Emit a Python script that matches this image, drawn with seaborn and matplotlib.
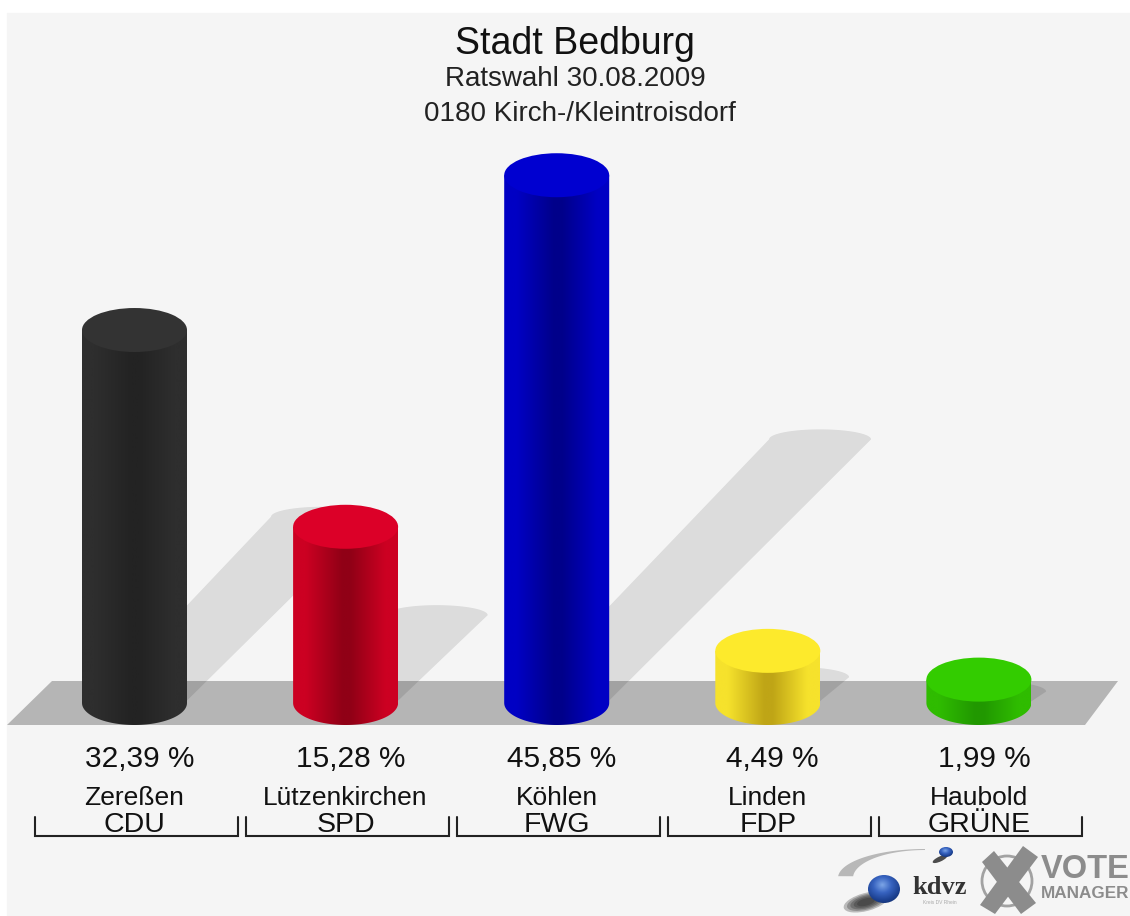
import numpy as np
import pandas as pd
import matplotlib
matplotlib.use('Agg')
import matplotlib.pyplot as plt
import seaborn as sns
from matplotlib.colors import LinearSegmentedColormap
from matplotlib.patches import Ellipse, Polygon, Rectangle, Circle
from matplotlib.transforms import Affine2D, blended_transform_factory

candidates = ['Zereßen', 'Lützenkirchen', 'Köhlen', 'Linden', 'Haubold']
parties = ['CDU', 'SPD', 'FWG', 'FDP', 'GRÜNE']
shares = [32.39, 15.28, 45.85, 4.49, 1.99]

edge_colors = ['#2e2e2e', '#cc0022', '#0000c4', '#f6e22c', '#2fbc00']
mid_colors = ['#232323', '#900016', '#00008a', '#bfa516', '#219800']
top_colors = ['#333333', '#dc0028', '#0000d0', '#fdea2c', '#33cc00']

W, H = 1130, 916
X_STEP = 211.1      # px per category
Y_STEP = 11.5       # px per percent
X0_PX, Y0_PX = 134.5, 703


def label(share):
    return f'{share:.2f}'.replace('.', ',') + ' %'


def draw_floor(fig, ax, px):
    fig.patches.append(Rectangle((7, 13), W, H, transform=px, color='#f5f5f5', zorder=-5))
    ax.add_patch(Polygon([(7, 725), (52, 681), (1118, 681), (1085, 725)], transform=px,
                         color='#b5b5b5', lw=0, zorder=1))


def draw_shadow(ax, pos, share):
    # shadow is sheared to the upper right, length follows the bar value
    rise = 0.5 * share
    shift = rise * Y_STEP * 0.98 / X_STEP
    left, right = pos - 40 / X_STEP, pos + 50 / X_STEP
    t = np.linspace(0, np.pi, 40)
    cx = pos + 5 / X_STEP + shift
    half = (right - left) / 2 + 6 / X_STEP
    arc_x = cx + half * np.cos(t)
    arc_y = rise + 10 / Y_STEP * np.sin(t)
    xs = np.r_[right, arc_x, left]
    ys = np.r_[0, arc_y, 0]
    ax.fill(xs, ys, color='black', alpha=0.1, lw=0, zorder=2)


def draw_cylinders(ax):
    ry = 22 / Y_STEP
    nodes = [0, 0.12, 0.47, 0.55, 0.88, 1]
    for patch, edge, mid, top in zip(ax.patches[:5], edge_colors, mid_colors, top_colors):
        x0, w = patch.get_x(), patch.get_width()
        h = patch.get_height() + 0.5 / Y_STEP
        cx = x0 + w / 2
        t = np.linspace(np.pi, 2 * np.pi, 60)
        outline = np.c_[np.r_[x0, cx + w / 2 * np.cos(t), x0 + w],
                        np.r_[h, ry * np.sin(t), h]]
        clip = Polygon(outline, transform=ax.transData, closed=True, lw=0)
        cmap = LinearSegmentedColormap.from_list('c', list(zip(nodes, [edge, edge, mid, mid, edge, edge])))
        img = ax.imshow(np.linspace(0, 1, 256).reshape(1, -1), cmap=cmap, aspect='auto',
                        extent=(x0, x0 + w, -ry, h), zorder=4, interpolation='bilinear')
        img.set_clip_path(clip)
        ax.add_patch(Ellipse((cx, h), w, 2 * ry, color=top, lw=0, zorder=5))
        patch.set_visible(False)


def draw_texts(ax, px, xpx):
    fam = 'Liberation Sans'
    ax.text(575, 54, 'Stadt Bedburg', transform=px, ha='center', va='baseline', fontsize=27, family=fam, color='#111111')
    ax.text(575, 86, 'Ratswahl 30.08.2009', transform=px, ha='center', va='baseline', fontsize=20, family=fam, color='#222222')
    ax.text(580, 121, '0180 Kirch-/Kleintroisdorf', transform=px, ha='center', va='baseline', fontsize=20, family=fam, color='#222222')
    for i, (cand, party, share) in enumerate(zip(candidates, parties, shares)):
        ax.text(i + 5 / X_STEP, 767, label(share), transform=xpx, ha='center', va='baseline', fontsize=21.5, family=fam, color='#111111')
        ax.text(i, 805, cand, transform=xpx, ha='center', va='baseline', fontsize=19, family=fam, color='#111111')
        ax.text(i, 832, party, transform=xpx, ha='center', va='baseline', fontsize=20.5, family=fam, color='#111111')
        left, right = i - 99.5 / X_STEP, i + 103 / X_STEP
        ax.plot([left, left, right, right], [817, 836, 836, 817], transform=xpx,
                color='#222222', lw=1.5, solid_joinstyle='miter')


def radial_ball(ax, px, cx, cy, rx, ry):
    yy, xx = np.mgrid[-1:1:80j, -1:1:80j]
    d = np.hypot(xx + 0.1, yy + 0.3)
    cmap = LinearSegmentedColormap.from_list('ball', ['#7ba4e6', '#3763c0', '#1b3f8e', '#10285c'])
    img = ax.imshow(d, cmap=cmap, extent=(cx - rx, cx + rx, cy + ry, cy - ry), transform=px, zorder=6, aspect='auto')
    img.set_clip_path(Ellipse((cx, cy), 2 * rx, 2 * ry, transform=px))


def draw_logo(ax, px):
    # grey swoosh
    t = np.linspace(np.pi * 1.02, np.pi * 1.5, 40)
    outer = np.c_[925 + 87 * np.cos(t), 878 + 29 * np.sin(t)]
    inner = np.c_[925 + 72 * np.cos(t[::-1]), 878 + 28 * np.sin(t[::-1])]
    ax.add_patch(Polygon(np.vstack([outer, inner]), transform=px, color='#b8b8b8', lw=0, zorder=6))
    # ball shadows, stacked for a soft edge
    for scale in [1.0, 0.85, 0.7, 0.55, 0.4]:
        ax.add_patch(Ellipse((866, 902), 46 * scale, 18 * scale, angle=-15, transform=px, color='#222222', alpha=0.28, lw=0, zorder=5))
    ax.add_patch(Ellipse((940, 859), 16, 5, angle=-25, transform=px, color='#222222', alpha=0.8, lw=0, zorder=5))
    radial_ball(ax, px, 884, 889, 16, 14)
    radial_ball(ax, px, 946, 852, 7, 5)
    ax.text(940, 888, 'kdvz', transform=px, ha='center', va='center', fontsize=19, weight='bold',
            family='Liberation Serif', color='#333333', zorder=6)
    ax.text(940, 903, 'Kreis DV Rhein', transform=px, ha='center', va='center', fontsize=3.5, color='#aaaaaa', zorder=6)
    # vote manager mark
    grey = '#8c8c8c'
    ax.add_patch(Circle((1007, 881), 25, transform=px, fill=False, ec='#a2a2a2', lw=2, zorder=6))
    ax.add_patch(Polygon([(982, 862), (994, 851), (1036, 903), (1021, 914)], transform=px, color=grey, lw=0, zorder=7))
    ax.add_patch(Polygon([(1023, 846), (1038, 857), (995, 914), (980, 905)], transform=px, color=grey, lw=0, zorder=7))
    ax.text(1041, 870, 'VOTE', transform=px, ha='left', va='center', fontsize=23.5, weight='bold',
            family='Liberation Sans', color=grey, zorder=7)
    ax.text(1041, 894, 'MANAGER', transform=px, ha='left', va='center', fontsize=12.3, weight='bold',
            family='Liberation Sans', color=grey, zorder=7)


def main():
    sns.set_theme(style='white')
    plt.rcParams['font.family'] = ['Liberation Sans', 'DejaVu Sans']

    fig = plt.figure(figsize=(W / 100, H / 100), dpi=100, facecolor='white')
    ax = fig.add_axes([0, 0, 1, 1])
    df = pd.DataFrame({'party': parties, 'share': shares})
    sns.barplot(data=df, x='party', y='share', hue='party', palette=edge_colors, saturation=1,
                width=105 / X_STEP, legend=False, ax=ax, zorder=3)

    xlim = (-X0_PX / X_STEP, (W - X0_PX) / X_STEP)
    ylim = (-(H - Y0_PX) / Y_STEP, Y0_PX / Y_STEP)
    px = Affine2D().scale(1 / W, -1 / H).translate(0, 1) + fig.transFigure
    xpx = blended_transform_factory(ax.transData, px)

    draw_floor(fig, ax, px)
    for i, share in enumerate(shares):
        draw_shadow(ax, i, share)
    draw_cylinders(ax)
    draw_texts(ax, px, xpx)
    draw_logo(ax, px)

    ax.set_xlim(*xlim)
    ax.set_ylim(*ylim)
    ax.set_axis_off()
    fig.savefig('out.png', dpi=100, facecolor='white')


if __name__ == '__main__':
    main()
